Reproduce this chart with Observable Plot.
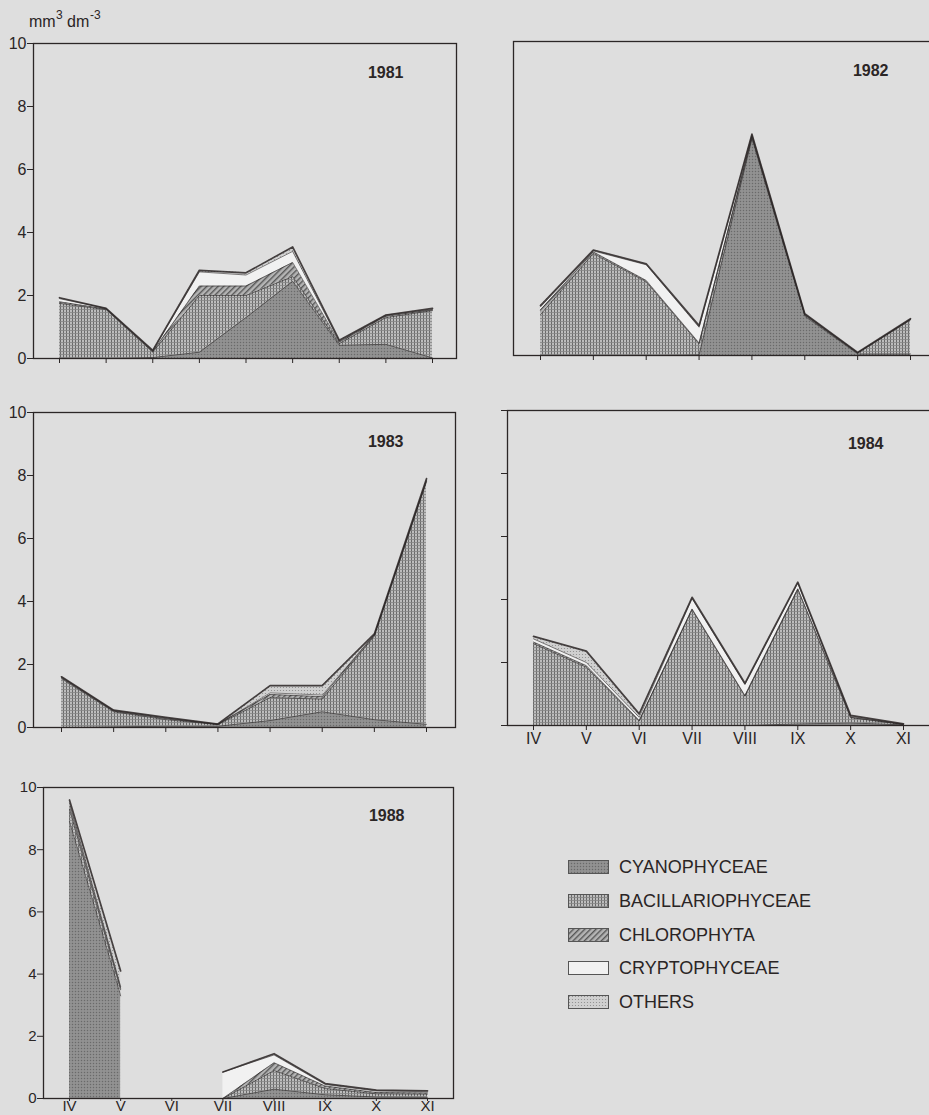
<!DOCTYPE html>
<html><head><meta charset="utf-8">
<script src="https://cdn.jsdelivr.net/npm/d3@7"></script>
<script src="https://cdn.jsdelivr.net/npm/@observablehq/plot@0.6"></script>
<style>
body{margin:0;background:#dedede;}
#fig{position:relative;width:929px;height:1115px;background:#dedede;overflow:hidden;font-family:"Liberation Sans",Arial,sans-serif;color:#2a2525;}
.panel{position:absolute;}
.unit{position:absolute;font-size:16px;line-height:18px;white-space:nowrap;}
.sup{position:absolute;font-size:12px;line-height:12px;}
.leg{position:absolute;left:568px;height:34px;display:flex;align-items:center;font-size:18px;}
</style></head><body>
<div id="fig">
<svg width="0" height="0" style="position:absolute;left:0;top:0">
<defs>
<pattern id="pCyano" width="3" height="3" patternUnits="userSpaceOnUse">
<rect width="3" height="3" fill="#8c8c8c"/>
<rect x="0" y="0" width="1" height="1" fill="#6a6a6a"/>
<rect x="1.5" y="1.5" width="1" height="1" fill="#a6a6a6"/>
</pattern>
<pattern id="pBacil" width="3" height="3" patternUnits="userSpaceOnUse">
<rect width="3" height="3" fill="#bdbdbd"/>
<rect x="0" y="0" width="1" height="3" fill="#6a6a6a"/>
<rect x="0" y="0" width="3" height="0.8" fill="#858585"/>
</pattern>
<pattern id="pChloro" width="4" height="4" patternUnits="userSpaceOnUse" patternTransform="rotate(45)">
<rect width="4" height="4" fill="#b4b4b4"/>
<rect width="1.4" height="4" fill="#575757"/>
</pattern>
<pattern id="pOthers" width="3" height="3" patternUnits="userSpaceOnUse">
<rect width="3" height="3" fill="#d0d0d0"/>
<circle cx="1.5" cy="1.5" r="0.6" fill="#8a8a8a"/>
</pattern>
</defs>
</svg>
<div class="unit" style="left:29px;top:13px">mm</div>
<div class="sup" style="left:56px;top:9px">3</div>
<div class="unit" style="left:67px;top:13px">dm</div>
<div class="sup" style="left:90px;top:9px">-3</div>
<div id="legend"></div>
</div>
<script>
// ---- data ----
const series = ["CYANOPHYCEAE", "BACILLARIOPHYCEAE", "CHLOROPHYTA", "CRYPTOPHYCEAE", "OTHERS"];
const fills = ["url(#pCyano)", "url(#pBacil)", "url(#pChloro)", "#f1f1f1", "url(#pOthers)"];
const months = ["IV", "V", "VI", "VII", "VIII", "IX", "X", "XI"];
const monthPos = [4, 5, 6, 7, 8, 9, 10, 11];
const yTicks = [0, 2, 4, 6, 8, 10];

// 1981 (nine sampling dates)
const x1981 = [4, 4.875, 5.75, 6.625, 7.5, 8.375, 9.25, 10.125, 11];
const cyano1981  = [0, 0, 0.03, 0.2, 1.3, 2.45, 0.42, 0.45, 0.02];
const bacil1981  = [1.75, 1.55, 0.17, 1.8, 0.7, 0.15, 0.05, 0.85, 1.5];
const chloro1981 = [0.05, 0.02, 0.02, 0.3, 0.3, 0.45, 0.05, 0.05, 0.02];
const crypto1981 = [0.1, 0.02, 0.02, 0.45, 0.35, 0.35, 0.03, 0.03, 0.02];
const others1981 = [0.03, 0, 0.02, 0.05, 0.07, 0.14, 0.03, 0, 0.03];

// 1982
const x1982 = [4, 5, 6, 7, 8, 9, 10, 11];
const cyano1982  = [0, 0, 0, 0.02, 6.9, 1.25, 0.05, 0.05];
const bacil1982  = [1.3, 3.25, 2.35, 0.35, 0.05, 0.03, 0.02, 1.08];
const chloro1982 = [0.15, 0.05, 0.04, 0.03, 0.03, 0.02, 0.01, 0.02];
const crypto1982 = [0.1, 0.03, 0.5, 0.5, 0.05, 0.02, 0.01, 0.01];
const others1982 = [0.04, 0.03, 0.03, 0.05, 0.02, 0.01, 0.01, 0.01];

// 1983
const x1983 = [4, 5, 6, 7, 8, 9, 10, 11];
const cyano1983  = [0, 0.02, 0.04, 0.04, 0.22, 0.5, 0.25, 0.1];
const bacil1983  = [1.55, 0.48, 0.21, 0.05, 0.73, 0.4, 2.65, 7.7];
const chloro1983 = [0.03, 0.02, 0.03, 0.01, 0.1, 0.08, 0.03, 0.03];
const crypto1983 = [0.02, 0.02, 0.02, 0.005, 0.05, 0.05, 0.02, 0.03];
const others1983 = [0.01, 0.01, 0.02, 0.005, 0.23, 0.3, 0.02, 0.04];

// 1984
const x1984 = [4, 5, 6, 7, 8, 9, 10, 11];
const cyano1984  = [0, 0, 0, 0, 0, 0.05, 0.08, 0.02];
const bacil1984  = [2.6, 1.85, 0.14, 3.68, 0.93, 4.27, 0.17, 0.01];
const chloro1984 = [0.05, 0.05, 0.02, 0.02, 0.02, 0.02, 0.01, 0.005];
const crypto1984 = [0.1, 0.1, 0.1, 0.33, 0.35, 0.18, 0.03, 0.01];
const others1984 = [0.08, 0.36, 0.11, 0.04, 0.04, 0.03, 0.03, 0.005];

// 1988 (no sample in VI)
const x1988   = [4, 5, 7, 8, 9, 10, 11];
const seg1988 = [0, 0, 1, 1, 1, 1, 1];
const cyano1988  = [8.9, 3.3, 0, 0.3, 0.12, 0.05, 0.04];
const bacil1988  = [0.4, 0.2, 0, 0.6, 0.2, 0.1, 0.1];
const chloro1988 = [0.1, 0.05, 0, 0.25, 0.08, 0.04, 0.04];
const crypto1988 = [0.1, 0.05, 0.85, 0.25, 0.05, 0.05, 0.04];
const others1988 = [0.1, 0.5, 0, 0.04, 0.03, 0.03, 0.03];

// ---- drawing ----
const fig = document.getElementById("fig");
const ink = "#2b2626";

function panel(o) {
  const rows = [];
  o.xs.forEach((x, i) => {
    const seg = o.seg ? o.seg[i] : 0;
    series.forEach((s, k) => rows.push({x, series: s, value: o.layers[k][i], key: s + "|" + seg}));
  });
  const chart = Plot.plot({
    width: o.w, height: o.h,
    marginLeft: o.mL, marginRight: o.mR, marginTop: o.mT, marginBottom: o.mB,
    style: {background: "transparent", fontFamily: "Liberation Sans, Arial, sans-serif", fontSize: (o.fs || 16) + "px", color: ink, overflow: "visible"},
    x: {domain: [4, 11], range: o.xr, ticks: o.xTicks, tickSize: o.xTickSize ?? 5, tickPadding: o.xTickPad ?? 2,
        tickFormat: o.monthLabels ? (d => months[monthPos.indexOf(d)]) : (() => ""), label: null},
    y: {domain: [0, 10], ticks: yTicks, tickSize: o.yTickSize ?? 6, tickPadding: 1,
        tickFormat: o.yLabels ? (d => String(d)) : (() => ""), label: null},
    color: {type: "ordinal", domain: series, range: fills},
    marks: [
      Plot.areaY(rows, Plot.stackY({x: "x", y: "value", z: "key", fill: "series"})),
      Plot.lineY(rows, Plot.stackY2({x: "x", y: "value", z: "key", stroke: ink,
        strokeWidth: d => d.series === "OTHERS" ? 1.7 : 0.7, strokeOpacity: 0.85})),
      Plot.frame({stroke: ink, strokeWidth: 1.3}),
      Plot.text([o.year], {frameAnchor: "top-right", dx: o.ydx, dy: o.ydy, text: d => d,
        textAnchor: "end", lineAnchor: "middle", fontSize: 16, fontWeight: "bold", fill: ink})
    ]
  });
  chart.classList.add("panel");
  chart.style.left = o.left + "px";
  chart.style.top = o.top + "px";
  fig.appendChild(chart);
}

panel({year: "1981", xs: x1981, layers: [cyano1981, bacil1981, chloro1981, crypto1981, others1981],
  left: 0, top: 0, w: 470, h: 380, mL: 33, mR: 14, mT: 43, mB: 22, xr: [59, 432],
  xTicks: x1981, yLabels: true, ydx: -53, ydy: 29});
panel({year: "1982", xs: x1982, layers: [cyano1982, bacil1982, chloro1982, crypto1982, others1982],
  left: 470, top: 0, w: 461, h: 380, mL: 43, mR: 0, mT: 41, mB: 25, xr: [70, 440],
  xTicks: x1982, yLabels: false, yTickSize: 0, ydx: -43, ydy: 29});
panel({year: "1983", xs: x1983, layers: [cyano1983, bacil1983, chloro1983, crypto1983, others1983],
  left: 0, top: 380, w: 470, h: 380, mL: 33, mR: 15, mT: 32, mB: 33, xr: [61, 426],
  xTicks: x1983, yLabels: true, ydx: -52, ydy: 29});
panel({year: "1984", xs: x1984, layers: [cyano1984, bacil1984, chloro1984, crypto1984, others1984],
  left: 470, top: 380, w: 461, h: 380, mL: 37, mR: 0, mT: 30, mB: 35, xr: [63, 433],
  xTicks: monthPos, monthLabels: true, yLabels: false, ydx: -48, ydy: 33});
panel({year: "1988", xs: x1988, seg: seg1988, layers: [cyano1988, bacil1988, chloro1988, crypto1988, others1988],
  left: 0, top: 760, w: 470, h: 355, mL: 43, mR: 17, mT: 27, mB: 17, xr: [69, 427],
  xTicks: monthPos, monthLabels: true, xTickSize: 3, xTickPad: -1, fs: 15, yLabels: true, ydx: -49, ydy: 28});

// legend
const legend = document.getElementById("legend");
const legendTops = [850, 884, 918, 951, 985];
series.forEach((s, k) => {
  const row = document.createElement("div");
  row.className = "leg";
  row.style.top = legendTops[k] + "px";
  const sw = document.createElementNS("http://www.w3.org/2000/svg", "svg");
  sw.setAttribute("width", 41); sw.setAttribute("height", 14);
  sw.style.marginRight = "10px";
  const r = document.createElementNS("http://www.w3.org/2000/svg", "rect");
  r.setAttribute("x", 0.5); r.setAttribute("y", 0.5); r.setAttribute("width", 40); r.setAttribute("height", 13);
  r.setAttribute("fill", fills[k]); r.setAttribute("stroke", "#555"); r.setAttribute("stroke-width", 1);
  sw.appendChild(r);
  row.appendChild(sw);
  const t = document.createElement("span");
  t.textContent = s;
  row.appendChild(t);
  legend.appendChild(row);
});
</script>
</body></html>
